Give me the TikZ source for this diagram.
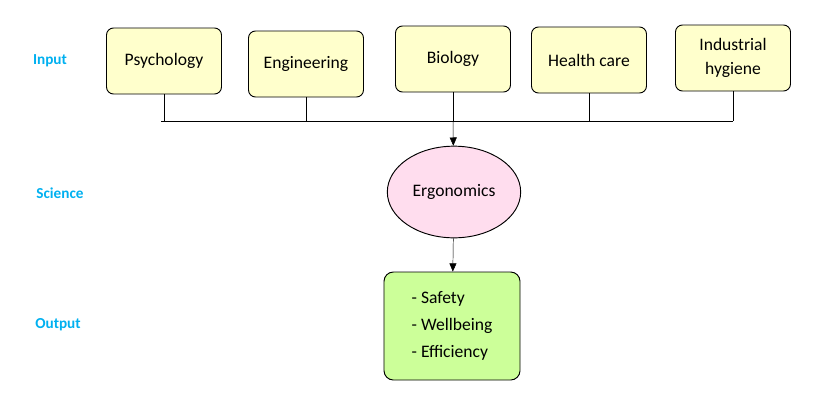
\documentclass[tikz,border=0pt]{standalone}
\usepackage{fontspec}
\setmainfont{Carlito}
\usetikzlibrary{positioning, arrows.meta, shapes.geometric}
\definecolor{boxyellow}{RGB}{255,255,204}
\definecolor{ergopink}{RGB}{255,221,238}
\definecolor{outgreen}{RGB}{204,255,153}
\definecolor{labelblue}{RGB}{0,176,240}
\begin{document}
\begin{tikzpicture}[x=0.03cm, y=-0.03cm,
    field/.style={draw, thick, fill=boxyellow, rounded corners=6pt, minimum width=3.45cm,
      minimum height=1.98cm, align=center, font=\fontsize{15}{18}\selectfont},
    level/.style={font=\bfseries\fontsize{13}{16}\selectfont, text=labelblue},
    link/.style={-{Triangle[length=7pt,width=6pt]}}]
		\useasboundingbox (0,0) rectangle (828,413);
		% Stage labels
		\node[level] (lin) at (50,61) {Input};
		\node[level] (lsc) at (60,193) {Science};
		\node[level] (lout) at (58,325) {Output};
		
		% Input fields
		\node[field] (psy) at (164,61) {Psychology};
		\node[field] (eng) at (306,64) {Engineering};
		\node[field] (bio) at (453,59) {Biology};
		\node[field] (hea) at (589,60) {Health care};
		\node[field] (ind) at (733,58) {Industrial\\[2pt]hygiene};
		
		% Collector line
		\coordinate (jl) at (161,121);
		\coordinate (jr) at (733,121);
		\coordinate (jm) at (453,121);
		\draw (jl) -- (jr);
		\foreach \f in {psy, eng, bio, hea, ind}
			\draw (\f.south) -- (\f.south |- jl);
		
		% Science and output
		\node[draw, thick, ellipse, fill=ergopink, minimum width=4cm, minimum height=2.75cm,
		  font=\fontsize{15}{18}\selectfont] (ergo) at (454,192) {Ergonomics};
		\node[draw, thick, fill=outgreen, rounded corners=8pt, minimum width=4.08cm,
		  minimum height=3.24cm, align=left, font=\fontsize{15}{18}\selectfont]
		  (out) at (452,326) {- Safety\\[5pt]- Wellbeing\\[5pt]- Efficiency};
		
		\draw[link] (jm) -- (ergo);
		\draw[link] (ergo) -- (out);
	\end{tikzpicture}
\end{document}
